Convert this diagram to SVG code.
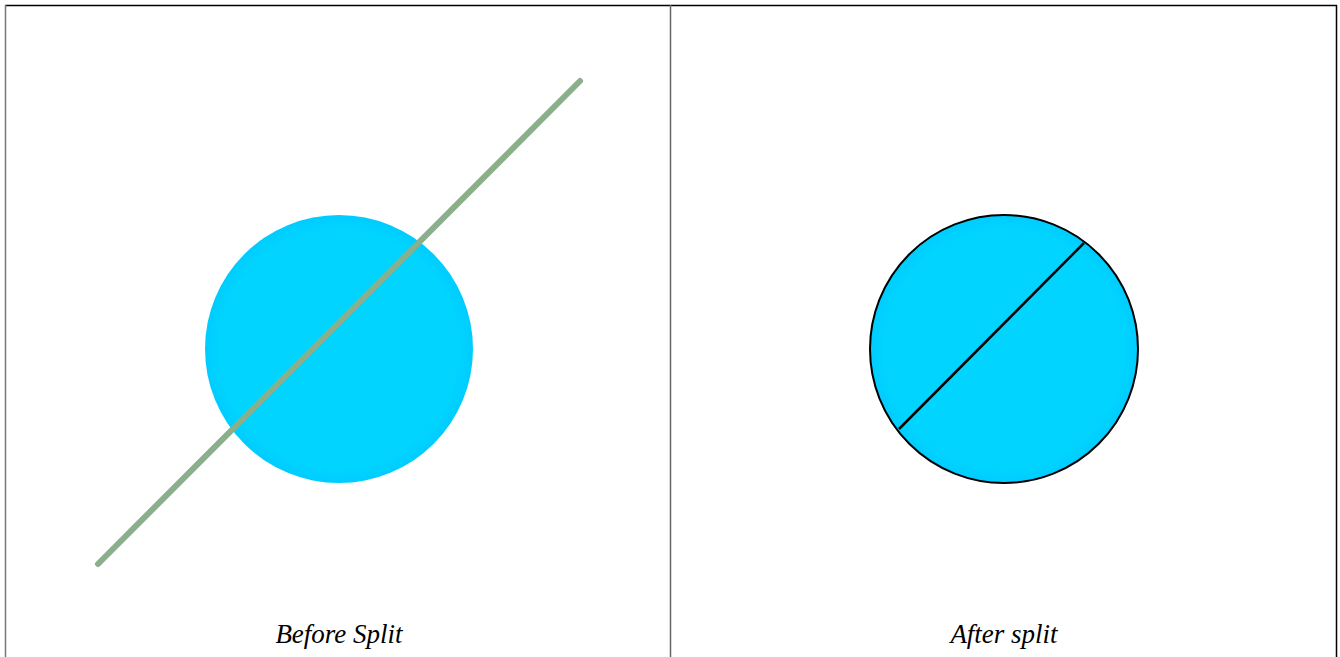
<svg xmlns="http://www.w3.org/2000/svg" width="1340" height="657" viewBox="0 0 1340 657">
<style>
.disc{fill:url(#g)}
.lbl{font-family:"Liberation Serif",serif;font-style:italic;font-size:27px;fill:#000;text-anchor:middle}
</style>
<defs>
<radialGradient id="g" cx="0.5" cy="0.5" r="0.5">
<stop offset="0.9" stop-color="#00d4ff"/>
<stop offset="1" stop-color="#00ccff"/>
</radialGradient>
</defs>
<rect width="1340" height="657" fill="#fff"/>
<g id="frame">
<line x1="5" y1="5.5" x2="1337" y2="5.5" stroke="#000" stroke-width="1.5"/>
<line x1="5.5" y1="5" x2="5.5" y2="657" stroke="#777" stroke-width="1.5"/>
<line x1="670.5" y1="5" x2="670.5" y2="657" stroke="#666" stroke-width="1.5"/>
<line x1="1336.5" y1="5" x2="1336.5" y2="657" stroke="#000" stroke-width="1.5"/>
</g>
<g id="before">
<circle class="disc" cx="339" cy="349" r="134"/>
<line x1="98" y1="564" x2="580" y2="81" stroke="#8aaf8a" stroke-width="6" stroke-linecap="round"/>
<text class="lbl" x="339" y="643">Before Split</text>
</g>
<g id="after">
<circle class="disc" cx="1004" cy="349" r="134" stroke="#000" stroke-width="2"/>
<line x1="1084" y1="243" x2="899" y2="429" stroke="#000" stroke-width="2.5"/>
<text class="lbl" x="1004" y="643">After split</text>
</g>
</svg>
